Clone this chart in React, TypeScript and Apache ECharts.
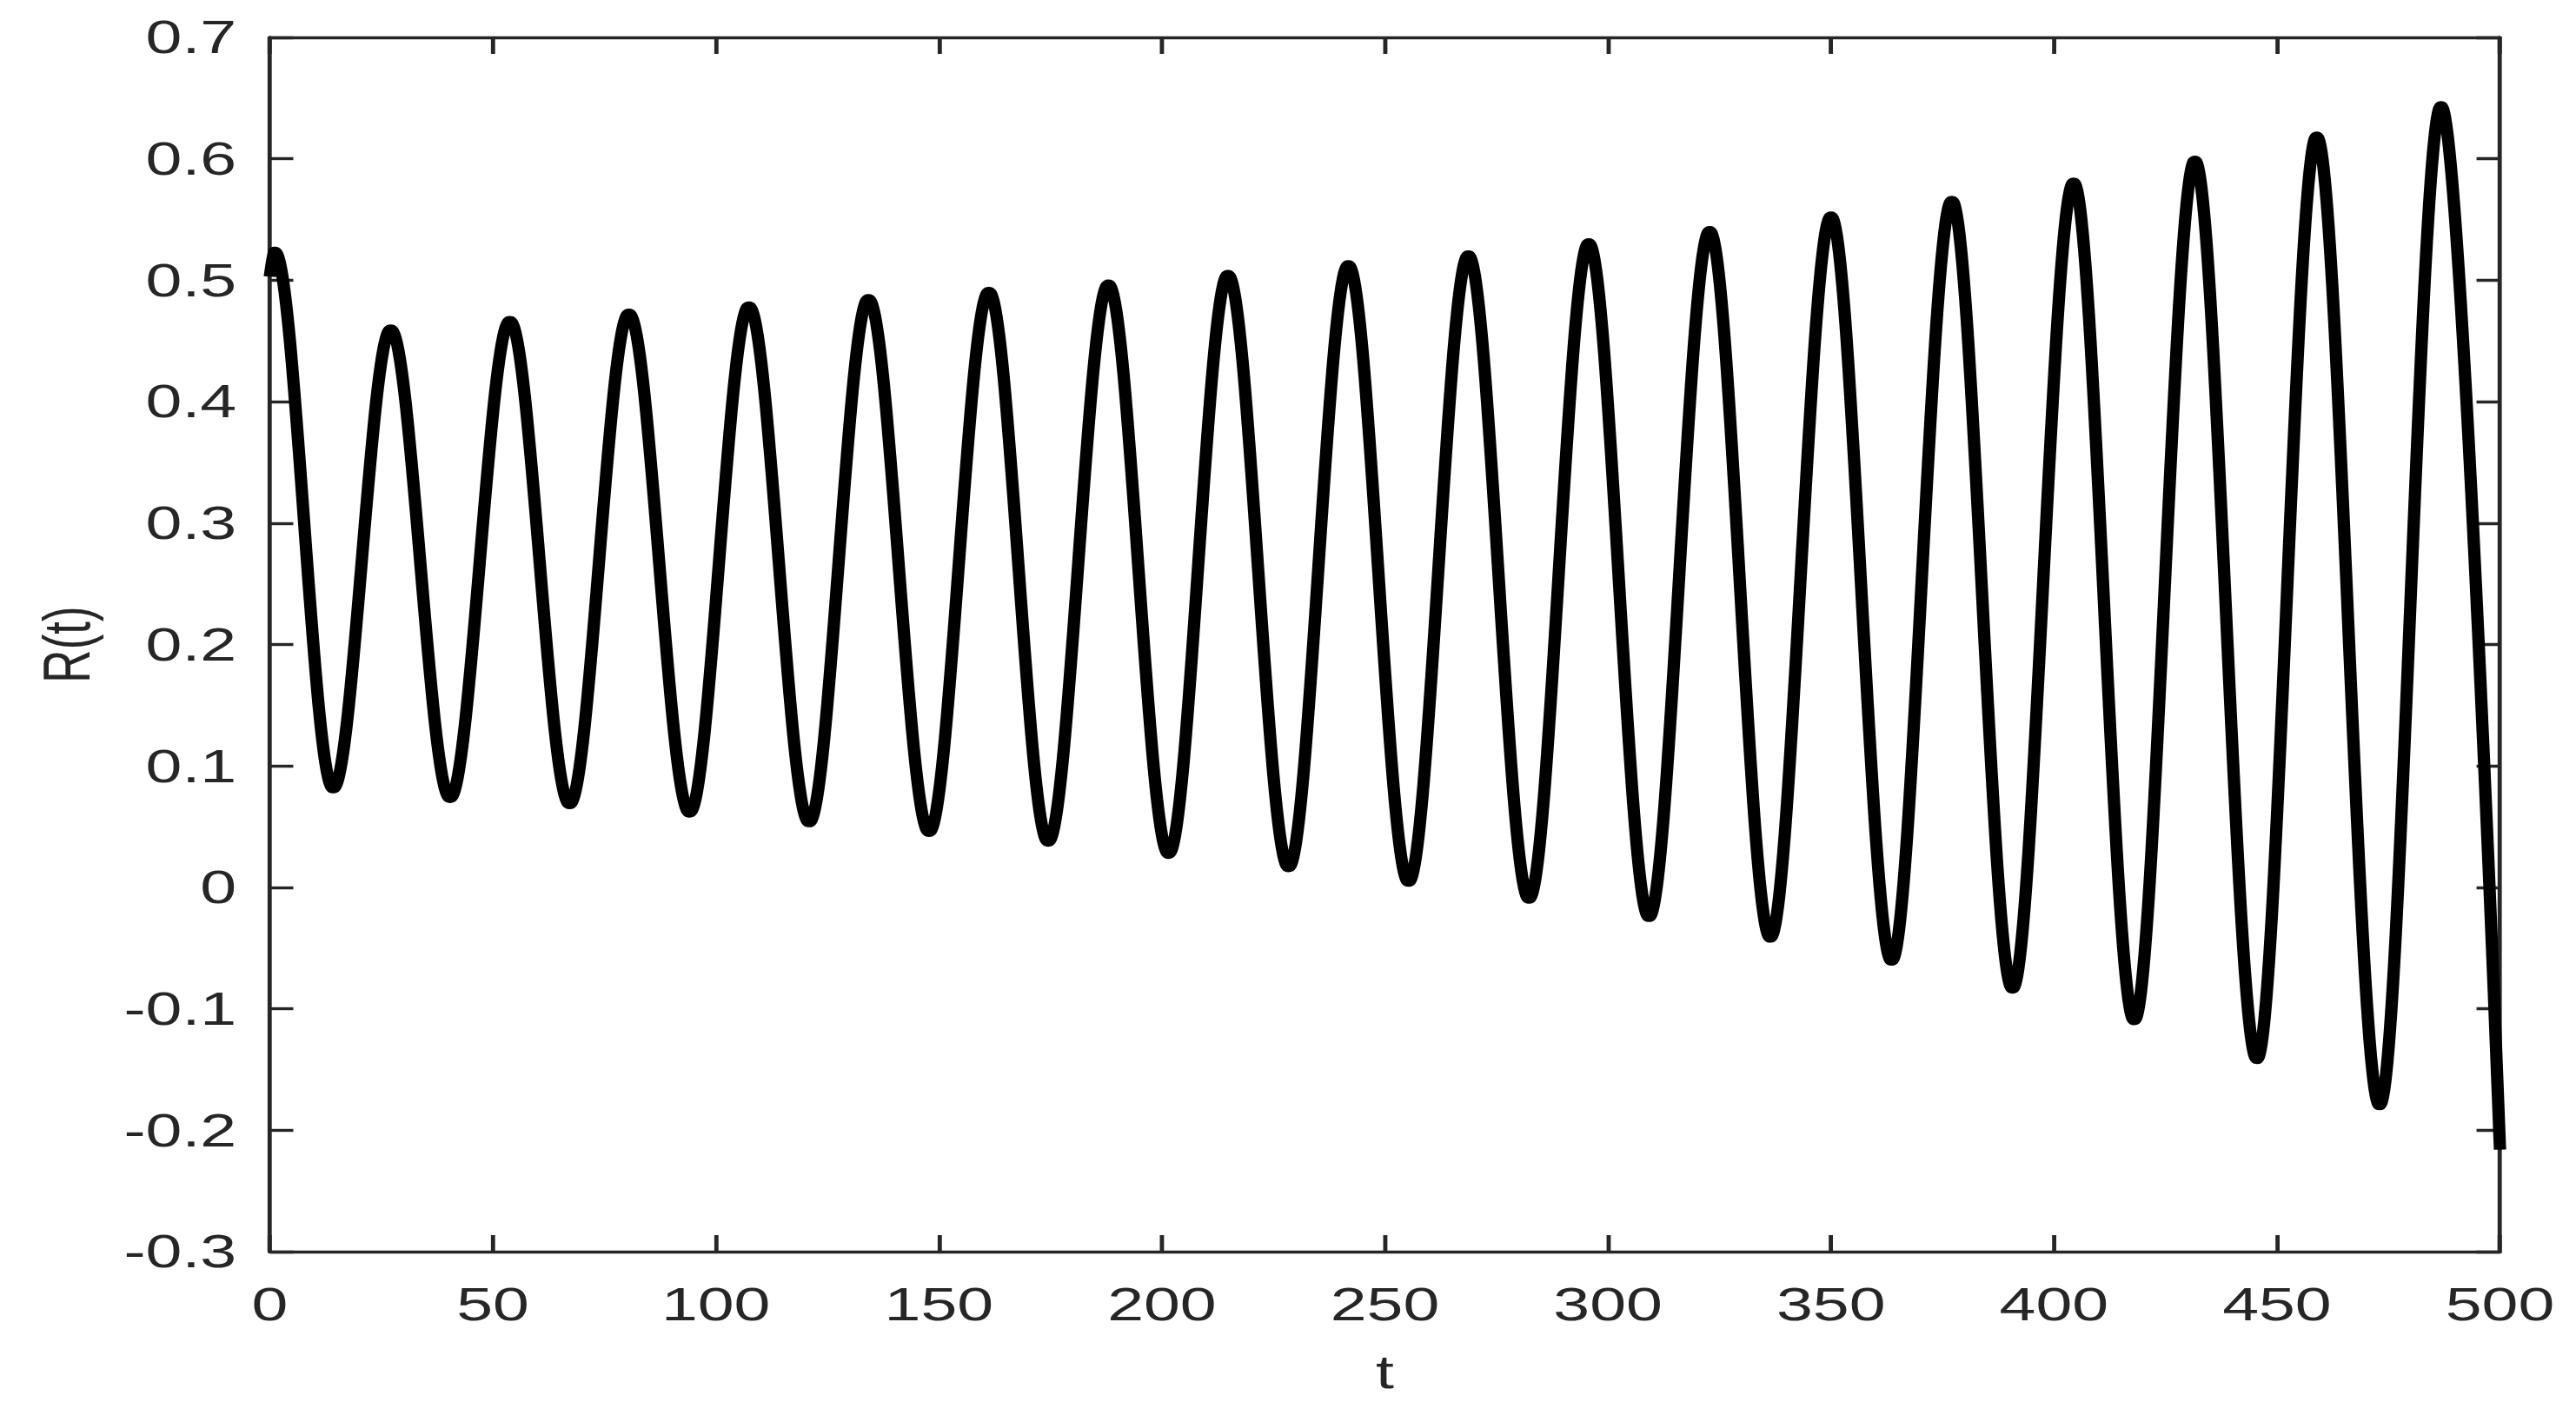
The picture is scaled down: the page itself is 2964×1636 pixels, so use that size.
import React, { useEffect, useRef } from "react";
import * as echarts from "echarts";

// Extrema (and end points) of R(t)
const tValues: number[] = [
  0, 1.1, 14.2, 27.1, 40.4, 53.8, 67.2, 80.5, 94.1, 107.4, 120.9, 134.2, 147.8,
  161.2, 174.5, 188.0, 201.5, 214.8, 228.4, 241.8, 255.3, 268.7, 282.3, 295.7,
  309.2, 322.8, 336.4, 350.0, 363.6, 377.1, 390.7, 404.4, 418.0, 431.6, 445.5,
  458.9, 473.0, 486.8, 500,
];
const rValues: number[] = [
  0.503, 0.524, 0.081, 0.46, 0.073, 0.467, 0.068, 0.473, 0.061, 0.479, 0.053,
  0.485, 0.045, 0.491, 0.037, 0.497, 0.027, 0.505, 0.016, 0.513, 0.004, 0.521,
  -0.01, 0.531, -0.025, 0.541, -0.042, 0.553, -0.061, 0.566, -0.084, 0.581,
  -0.11, 0.599, -0.142, 0.619, -0.18, 0.644, -0.216,
];

const xAxisRange = { min: 0, max: 500, interval: 50 };
const yAxisRange = { min: -0.3, max: 0.7, interval: 0.1 };
const xAxisName = "t";
const yAxisName = "R(t)";

const FULL_W = 2964;
const FULL_H = 1636;
const STRETCH = 1.42;
const W0 = FULL_W / STRETCH;

const TEXT = "#262626";
const FONT = "Liberation Sans, Arial, Helvetica, sans-serif";
const FS = 53;

export default function App() {
  const ref = useRef<HTMLDivElement>(null);

  useEffect(() => {
    if (!ref.current) return;
    const chart = echarts.init(ref.current, undefined, { renderer: "svg" });
    const data = tValues.map((t, i) => [t, rValues[i]]);
    const axisLine = { show: true, onZero: false, lineStyle: { color: TEXT, width: 3.4 } };
    const axisTick = { show: true, inside: true, length: 19, lineStyle: { color: TEXT, width: 3.4 } };
    const fmt = (v: number) => String(Math.round(v * 10) / 10);
    chart.setOption({
      animation: false,
      backgroundColor: "#ffffff",
      grid: {
        left: 310.5 / STRETCH,
        right: 87 / STRETCH,
        top: 43,
        bottom: FULL_H - 1440,
        containLabel: false,
      },
      xAxis: [
        {
          type: "value",
          position: "bottom",
          ...xAxisRange,
          name: xAxisName,
          nameLocation: "middle",
          nameGap: 112,
          nameTextStyle: { color: TEXT, fontSize: FS, fontFamily: FONT },
          axisLine,
          axisTick,
          splitLine: { show: false },
          axisLabel: { color: TEXT, fontSize: FS, fontFamily: FONT, margin: 34, formatter: fmt },
        },
        {
          type: "value",
          position: "top",
          ...xAxisRange,
          axisLine,
          axisTick,
          splitLine: { show: false },
          axisLabel: { show: false },
        },
      ],
      yAxis: [
        {
          type: "value",
          position: "left",
          ...yAxisRange,
          name: yAxisName,
          nameLocation: "middle",
          nameGap: 138,
          nameTextStyle: { color: TEXT, fontSize: FS, fontFamily: FONT },
          axisLine,
          axisTick,
          splitLine: { show: false },
          axisLabel: { color: TEXT, fontSize: FS, fontFamily: FONT, margin: 27, formatter: fmt },
        },
        {
          type: "value",
          position: "right",
          ...yAxisRange,
          axisLine,
          axisTick,
          splitLine: { show: false },
          axisLabel: { show: false },
        },
      ],
      series: [
        {
          type: "line",
          data,
          xAxisIndex: 0,
          yAxisIndex: 0,
          showSymbol: false,
          smooth: 1 / 3,
          smoothMonotone: "x",
          clip: false,
          lineStyle: { color: "#000000", width: 10, cap: "butt" },
        },
      ],
    });
    return () => chart.dispose();
  }, []);

  return (
    <div
      style={{
        position: "fixed",
        left: 0,
        top: 0,
        width: FULL_W,
        height: FULL_H,
        overflow: "hidden",
        background: "#ffffff",
      }}
    >
      <div
        ref={ref}
        style={{
          width: W0,
          height: FULL_H,
          transform: `scaleX(${STRETCH})`,
          transformOrigin: "0 0",
        }}
      />
    </div>
  );
}
